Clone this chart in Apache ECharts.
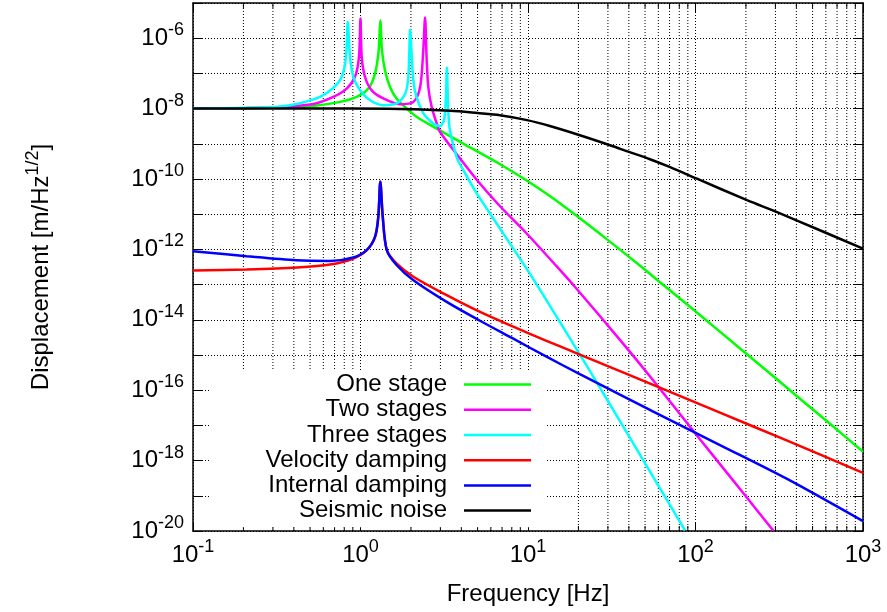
<!DOCTYPE html>
<html><head><meta charset="utf-8">
<script src="https://cdn.jsdelivr.net/npm/echarts@6/dist/echarts.min.js"></script>
<style>html,body{margin:0;padding:0;background:#fff}#c{width:887px;height:612px}</style>
</head><body><div id="c"></div>
<script>
// ---- data (frequency in Hz, displacement in m/Hz^1/2) ----
const seriesNames = ['One stage', 'Two stages', 'Three stages', 'Velocity damping', 'Internal damping', 'Seismic noise'];

const oneStageF = [0.1, 0.209, 0.33, 0.523, 0.755, 0.949, 1.113, 1.221, 1.284, 1.313, 1.343, 1.40, 1.50, 1.64, 1.89, 2.17, 2.85, 4.31, 6.81, 9.82, 13.5, 19.5, 29.5, 46.7, 61.4, 92.7, 202, 431, 635, 1000];
const oneStageV = [1e-8, 1.03e-8, 1.07e-8, 1.19e-8, 1.55e-8, 2.15e-8, 3.7e-8, 9.9e-8, 4.6e-7, 3.2e-6, 4.6e-7, 1.23e-7, 4.1e-8, 1.94e-8, 1.0e-8, 5.8e-9, 2.7e-9, 8.9e-10, 2.63e-10, 9.1e-11, 3.29e-11, 9.0e-12, 1.96e-12, 3.44e-13, 1.17e-13, 2.34e-14, 1.07e-15, 5.2e-17, 1.11e-17, 1.8e-18];

const twoStagesF = [0.1, 0.209, 0.33, 0.523, 0.688, 0.827, 0.927, 0.979, 1.0, 1.017, 1.064, 1.166, 1.368, 1.72, 2.07, 2.27, 2.37, 2.43, 2.48, 2.54, 2.66, 2.85, 2.98, 3.75, 4.94, 6.81, 9.82, 14.8, 19.5, 35.4, 56.0, 106, 202, 291];
const twoStagesV = [1e-8, 1.04e-8, 1.1e-8, 1.35e-8, 2.15e-8, 3.7e-8, 8.0e-8, 2.9e-7, 3.6e-6, 2.9e-7, 8.0e-8, 3.3e-8, 1.94e-8, 1.33e-8, 1.55e-8, 4.1e-8, 4.6e-7, 3.9e-6, 2.9e-7, 4.1e-8, 1.12e-8, 3.8e-9, 2.2e-9, 5.07e-10, 9.55e-11, 1.68e-11, 2.83e-12, 3.33e-13, 7.6e-14, 2.69e-15, 1.89e-16, 4.13e-18, 9.06e-20, 1.03e-20];

const threeStagesF = [0.1, 0.21, 0.33, 0.435, 0.573, 0.685, 0.773, 0.819, 0.839, 0.866, 0.906, 0.993, 1.14, 1.368, 1.64, 1.85, 1.93, 1.98, 2.04, 2.11, 2.37, 2.72, 2.98, 3.15, 3.23, 3.28, 3.34, 3.42, 3.75, 4.11, 4.94, 5.93, 7.12, 9.38, 11.8, 20.4, 25.1, 35.4, 50.0, 86.6];
const threeStagesV = [1e-8, 1.05e-8, 1.15e-8, 1.42e-8, 2.15e-8, 3.8e-8, 8.0e-8, 2.9e-7, 2.9e-6, 2.9e-7, 8.0e-8, 3.3e-8, 1.73e-8, 1.25e-8, 1.4e-8, 2.7e-8, 8.0e-8, 1.77e-6, 1.53e-7, 3.3e-8, 7.4e-9, 3.8e-9, 3.2e-9, 4.7e-9, 1.73e-8, 1.47e-7, 9.0e-9, 2.4e-9, 4.2e-10, 1.78e-10, 3.9e-11, 1.05e-11, 2.8e-12, 3.93e-13, 7.11e-14, 1.03e-15, 2.03e-16, 1.32e-17, 8.4e-19, 1.04e-20];

const velocityF = [0.1, 0.209, 0.416, 0.658, 0.906, 1.089, 1.221, 1.277, 1.313, 1.358, 1.436, 1.64, 2.07, 3.27, 5.17, 8.17, 12.9, 20.4, 35.4, 92.7, 140, 350, 1000];
const velocityV = [2.5e-13, 2.7e-13, 3.06e-13, 3.7e-13, 5.5e-13, 9.5e-13, 2.26e-12, 8.4e-12, 8.3e-11, 8.4e-12, 9.5e-13, 4.0e-13, 1.67e-13, 5.0e-14, 1.67e-14, 6.37e-15, 2.53e-15, 1.03e-15, 3.47e-16, 5.2e-17, 2.3e-17, 3.75e-18, 4.48e-19];

const internalF = [0.1, 0.209, 0.416, 0.658, 0.906, 1.089, 1.221, 1.277, 1.313, 1.358, 1.436, 1.64, 2.07, 3.27, 5.17, 8.17, 12.9, 20.4, 35.4, 56.0, 140, 350, 1000];
const internalV = [8.9e-13, 6.4e-13, 4.9e-13, 4.7e-13, 5.9e-13, 9.5e-13, 2.26e-12, 8.4e-12, 8.3e-11, 8.4e-12, 9.5e-13, 3.6e-13, 1.33e-13, 3.23e-14, 9.4e-15, 2.9e-15, 8.95e-16, 2.85e-16, 7.45e-17, 2.48e-17, 2.77e-18, 3.06e-19, 1.9e-20];

const seismicF = [0.1, 0.87, 1.72, 3.42, 5.0, 6.81, 9.87, 13.5, 20.4, 30.9, 40, 53.5, 70, 102, 203, 307, 531, 1000];
const seismicV = [1e-8, 1e-8, 9.7e-9, 8.7e-9, 7.5e-9, 6.5e-9, 4.7e-9, 3.2e-9, 1.75e-9, 9.1e-10, 5.9e-10, 3.65e-10, 2.2e-10, 1.02e-10, 2.5e-11, 1.14e-11, 3.8e-12, 1.05e-12];

// axis ticks / labels
const xMin = 0.1, xMax = 1000, yMin = 1e-20, yMax = 1e-5;
const xLabelExponents = [-1, 0, 1, 2, 3];
const yLabelExponents = [-20, -18, -16, -14, -12, -10, -8, -6];
const xMinorTicks = [0.2,0.3,0.4,0.5,0.6,0.7,0.8,0.9, 2,3,4,5,6,7,8,9, 20,30,40,50,60,70,80,90, 200,300,400,500,600,700,800,900];

// ---- chart ----
const FONT = '"Liberation Sans", Arial, Helvetica, sans-serif';
const colors = ['#00ff00', '#ff00ff', '#00ffff', '#ff0000', '#0000ff', '#000000'];
const seriesF = [oneStageF, twoStagesF, threeStagesF, velocityF, internalF, seismicF];
const seriesV = [oneStageV, twoStagesV, threeStagesV, velocityV, internalV, seismicV];

const rich = {
  b: { fontSize: 24, fontFamily: FONT, color: '#000', lineHeight: 34 },
  s: { fontSize: 18, fontFamily: FONT, color: '#000', lineHeight: 20, verticalAlign: 'top' }
};
function powLabel(v, list) {
  const e = Math.round(Math.log10(v));
  if (list.indexOf(e) < 0) return '';
  return '{b|10}{s|' + e + '}';
}
const dotted = { color: '#000', width: 1, type: [1, 2] };

const lineSeries = seriesNames.map((name, i) => ({
  name: name,
  type: 'line',
  data: seriesF[i].map((f, k) => [f, seriesV[i][k]]),
  showSymbol: false,
  symbol: 'none',
  smooth: 0.3,
  lineStyle: { width: 2.5, color: colors[i] },
  itemStyle: { color: colors[i] },
  z: 3,
  animation: false
}));

const minorSeries = {
  type: 'custom',
  silent: true,
  z: 2,
  encode: { x: 0 },
  data: xMinorTicks.map(f => [f]),
  renderItem: function (params, api) {
    const f = api.value(0);
    const b = api.coord([f, yMin]);
    const t = api.coord([f, yMax]);
    return {
      type: 'group',
      children: [
        { type: 'line', shape: { x1: b[0], y1: b[1], x2: t[0], y2: t[1] }, style: { stroke: '#000', lineWidth: 1, lineDash: [1, 2] } },
        { type: 'line', shape: { x1: b[0], y1: b[1], x2: b[0], y2: b[1] - 5 }, style: { stroke: '#000', lineWidth: 1 } },
        { type: 'line', shape: { x1: t[0], y1: t[1], x2: t[0], y2: t[1] + 5 }, style: { stroke: '#000', lineWidth: 1 } }
      ]
    };
  },
  animation: false
};

const chart = echarts.init(document.getElementById('c'), null, { renderer: 'canvas' });
chart.setOption({
  animation: false,
  backgroundColor: '#fff',
  color: colors,
  grid: { left: 193, right: 24, top: 3, bottom: 81, show: false },
  legend: {
    data: seriesNames,
    orient: 'vertical',
    align: 'right',
    right: 342,
    top: 370,
    padding: [2, 14, 4, 55],
    backgroundColor: '#fff',
    icon: 'rect',
    itemWidth: 67,
    itemHeight: 2.5,
    itemGap: 0,
    selectedMode: false,
    textStyle: { fontSize: 24, fontFamily: FONT, color: '#000', lineHeight: 25.2, padding: [0, 12, 0, 0] }
  },
  xAxis: [
    {
      type: 'log', logBase: 10, min: xMin, max: xMax, interval: 1,
      position: 'bottom',
      axisLine: { show: true, lineStyle: { color: '#000', width: 1.5 } },
      axisTick: { show: true, inside: true, length: 9, lineStyle: { color: '#000', width: 1 } },
      splitLine: { show: true, lineStyle: dotted },
      axisLabel: { show: true, margin: 7, formatter: v => powLabel(v, xLabelExponents), rich: rich, showMinLabel: true, showMaxLabel: true },
      name: 'Frequency [Hz]', nameLocation: 'middle', nameGap: 51,
      nameTextStyle: { fontSize: 24, fontFamily: FONT, color: '#000' }
    },
    {
      type: 'log', logBase: 10, min: xMin, max: xMax, interval: 1,
      position: 'top',
      axisLine: { show: true, lineStyle: { color: '#000', width: 1.5 } },
      axisTick: { show: true, inside: true, length: 9, lineStyle: { color: '#000', width: 1 } },
      splitLine: { show: false },
      axisLabel: { show: false }
    }
  ],
  yAxis: [
    {
      type: 'log', logBase: 10, min: yMin, max: yMax, interval: 1,
      position: 'left',
      axisLine: { show: true, lineStyle: { color: '#000', width: 1.5 } },
      axisTick: { show: true, inside: true, length: 9, lineStyle: { color: '#000', width: 1 } },
      splitLine: { show: true, lineStyle: dotted },
      axisLabel: { show: true, margin: 9, formatter: v => powLabel(v, yLabelExponents), rich: rich, showMinLabel: true, showMaxLabel: true },
      name: '{n|Displacement [m/Hz}{s|1/2}{n|]}', nameLocation: 'middle', nameGap: 135, nameRotate: 90,
      nameTextStyle: { rich: {
        n: { fontSize: 24, fontFamily: FONT, color: '#000', lineHeight: 34 },
        s: { fontSize: 18, fontFamily: FONT, color: '#000', lineHeight: 20, verticalAlign: 'top' }
      } }
    },
    {
      type: 'log', logBase: 10, min: yMin, max: yMax, interval: 1,
      position: 'right',
      axisLine: { show: true, lineStyle: { color: '#000', width: 1.5 } },
      axisTick: { show: true, inside: true, length: 9, lineStyle: { color: '#000', width: 1 } },
      splitLine: { show: false },
      axisLabel: { show: false }
    }
  ],
  series: [minorSeries].concat(lineSeries)
});
</script>
</body></html>
